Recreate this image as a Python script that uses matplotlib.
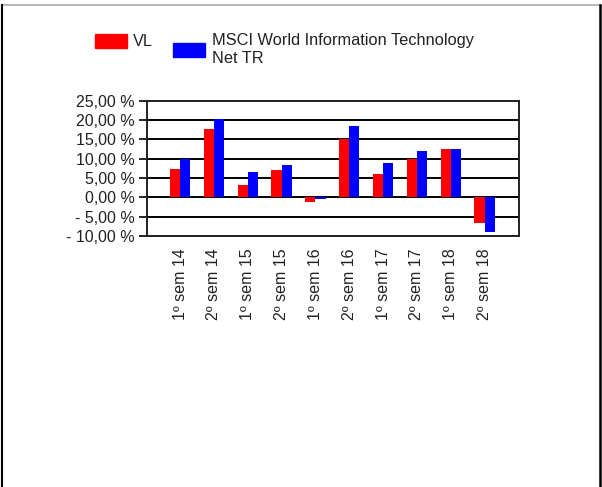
import matplotlib.pyplot as plt
import numpy as np
from matplotlib.lines import Line2D
from matplotlib.patches import Rectangle

plt.rcParams['font.family'] = ['Liberation Sans', 'DejaVu Sans']

# semester returns (%)
periods = ["1º sem 14", "2º sem 14", "1º sem 15", "2º sem 15", "1º sem 16",
           "2º sem 16", "1º sem 17", "2º sem 17", "1º sem 18", "2º sem 18"]
vl = [7.4, 17.6, 3.3, 7.0, -1.3, 15.0, 6.0, 9.9, 12.4, -6.7]
msci = [10.0, 20.2, 6.5, 8.4, -0.3, 18.4, 8.8, 12.0, 12.4, -9.0]

yticks = [25, 20, 15, 10, 5, 0, -5, -10]
ytick_labels = ["25,00 %", "20,00 %", "15,00 %", "10,00 %", "5,00 %",
                "0,00 %", "- 5,00 %", "- 10,00 %"]

W, H = 602, 487
fig = plt.figure(figsize=(W / 100, H / 100), dpi=100)
ax = fig.add_axes([147 / W, 1 - 236 / H, (519 - 147) / W, (236 - 100.7) / H])

x = np.arange(len(periods))
bw = 0.3
ax.bar(x - bw / 2, vl, width=bw, color='#ff0000', zorder=3)
ax.bar(x + bw / 2, msci, width=bw, color='#0000ff', zorder=3)

ax.set_xlim(-0.98, 10.02)
ax.set_ylim(-10, 25)
ax.set_yticks(yticks)
ax.set_yticklabels(ytick_labels, fontsize=11.5, color='#222222')
for y in yticks:
    ax.axhline(y, color='black', lw=1.4, zorder=2)

ax.set_xticks(x)
ax.set_xticklabels(periods, rotation=90, fontsize=11.5, color='#222222')
ax.tick_params(axis='x', length=0, pad=9)
ax.tick_params(axis='y', length=6, width=1.2, pad=3)
for s in ax.spines.values():
    s.set_linewidth(1.4)
    s.set_color('#222222')

# legend drawn by hand
fig.patches.append(Rectangle((95 / W, 1 - 48 / H), 32 / W, 14 / H,
                             transform=fig.transFigure, color='#ff0000'))
fig.text(133 / W, 1 - 41 / H, "VL", fontsize=11.8, color='#222222', va='center')
fig.patches.append(Rectangle((173 / W, 1 - 57 / H), 32 / W, 14 / H,
                             transform=fig.transFigure, color='#0000ff'))
fig.text(212 / W, 1 - 33.5 / H, "MSCI World Information Technology\nNet TR",
         fontsize=11.8, color='#222222', va='top', linespacing=1.2)

# outer frame
fig.add_artist(Line2D([1.5 / W, 600 / W], [1 - 4.7 / H, 1 - 4.7 / H],
                      transform=fig.transFigure, color='#aaaaaa', lw=1.2))
fig.add_artist(Line2D([1.5 / W, 1.5 / W], [0, 1 - 4.7 / H],
                      transform=fig.transFigure, color='black', lw=1.5))
fig.add_artist(Line2D([600 / W, 600 / W], [0, 1 - 4.7 / H],
                      transform=fig.transFigure, color='black', lw=1.8))

fig.savefig("out.png", dpi=100)
